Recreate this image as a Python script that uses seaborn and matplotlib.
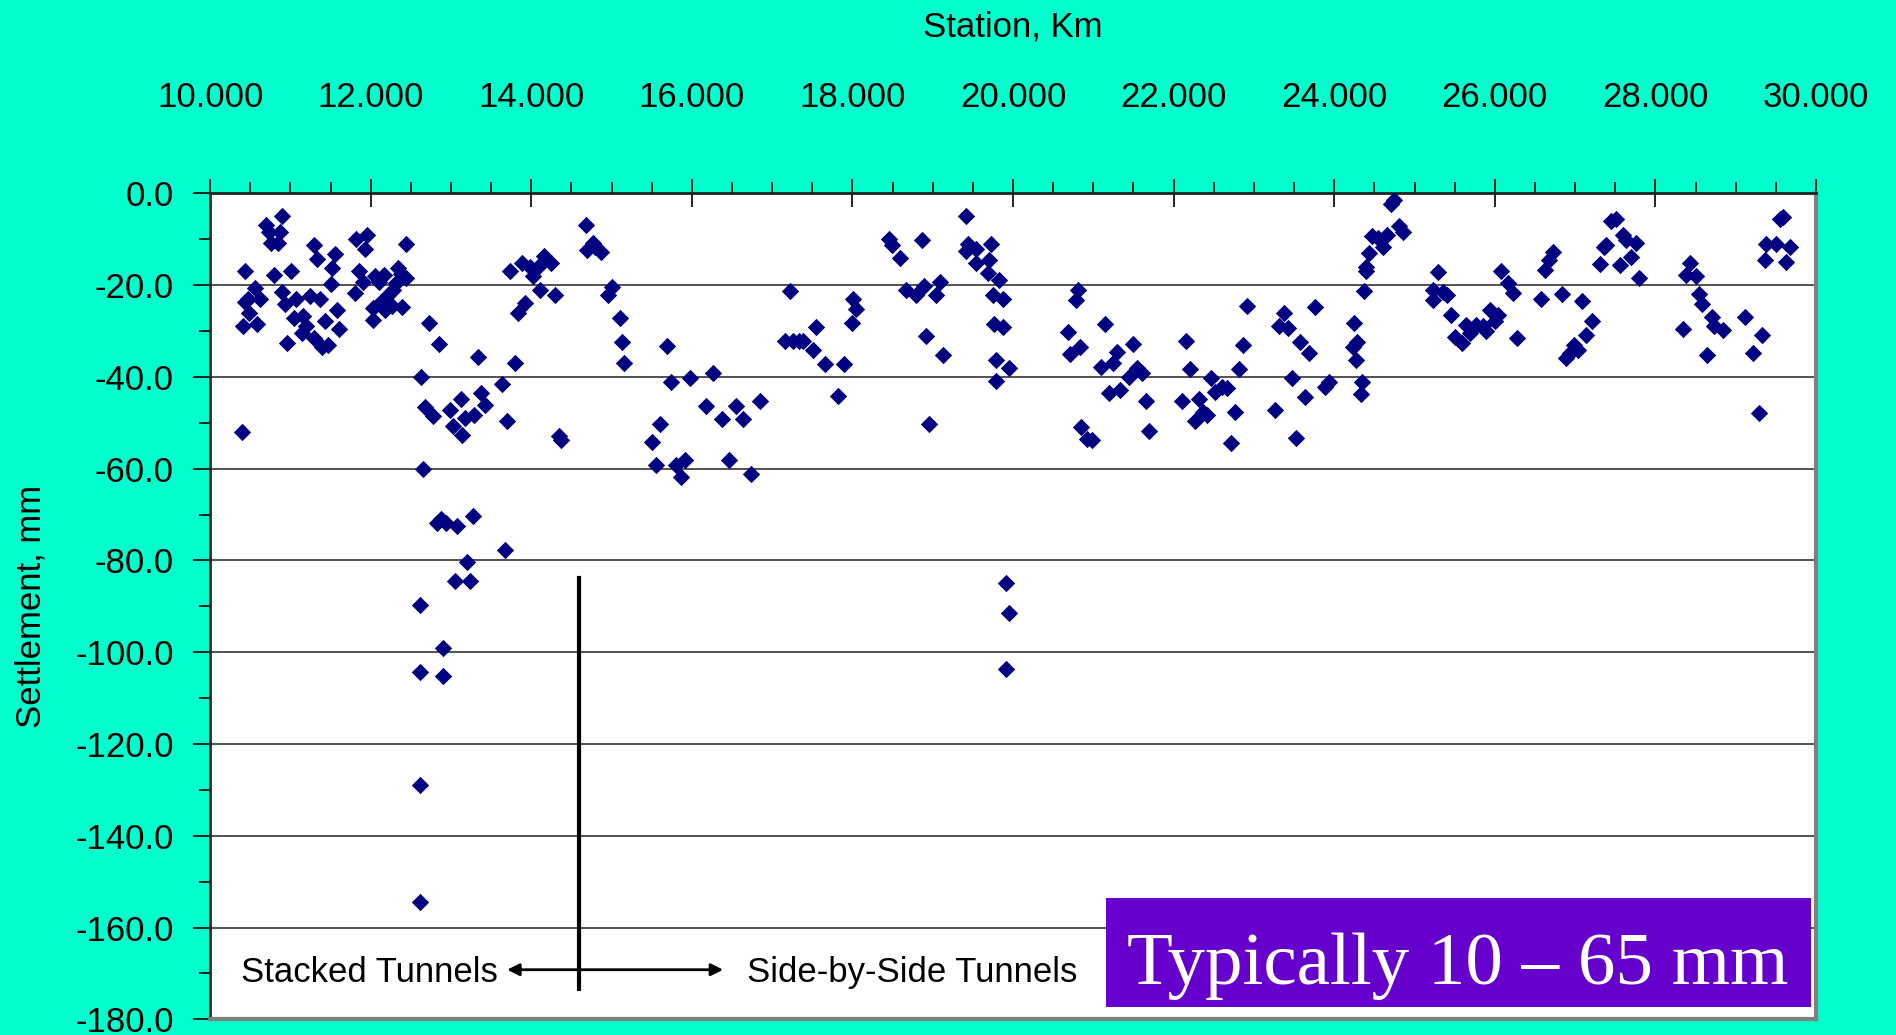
import pandas as pd
import matplotlib
matplotlib.use('Agg')
import matplotlib.pyplot as plt
import seaborn as sns
from matplotlib.ticker import MultipleLocator, FormatStrFormatter
from matplotlib.patches import Rectangle

# Datos (estacion en km, asentamiento en mm)
station_km = [
    # 10 - 12.5 km
    10.43, 10.40, 10.56, 10.47, 10.62, 10.43, 10.49, 10.41, 10.58,
    10.70, 10.74, 10.89, 10.87, 10.76, 10.85, 10.79, 11.01, 10.90, 10.93, 10.96,
    11.07, 11.24, 11.37, 11.05, 11.16, 11.20, 11.14, 11.30, 11.39, 11.47,
    11.29, 11.33, 11.56, 11.52, 11.51, 11.58, 11.61, 11.43,
    11.82, 11.95, 11.93, 11.86, 11.90, 11.81, 12.05, 12.17, 12.10,
    12.34, 12.44, 12.32, 12.22, 12.13, 12.03, 12.03, 12.26, 12.39, 12.44,
    12.38, 12.28, 12.18,
    # 12.5 - 15.2 km
    12.73, 12.85, 12.63, 12.68, 12.78, 12.65, 13.02, 13.14, 12.99, 13.13,
    13.18, 13.29, 13.37, 13.42, 13.34, 13.64, 13.70, 13.80, 13.83, 13.92,
    13.74, 13.88, 13.98, 14.02, 14.08, 14.16, 14.25, 14.11, 14.30, 14.35, 14.37,
    14.68, 14.79, 14.87, 14.77, 14.70, 15.00, 14.95, 15.10, 15.13, 15.16,
    12.82, 12.88, 12.94, 13.07, 13.27, 13.67, 13.20, 13.05, 13.24,
    12.62, 12.90, 12.62, 12.90, 12.62, 12.62,
    # 15.5 - 20 km
    15.69, 15.74, 15.98, 16.26, 15.60, 15.50, 15.55, 15.80, 15.91, 15.86,
    16.17, 16.37, 16.55, 16.64, 16.85, 16.46, 16.74,
    17.22, 17.16, 17.26, 17.34, 17.38, 17.55, 17.51, 17.66, 17.89, 17.82,
    18.01, 18.04, 17.99,
    18.46, 18.49, 18.59, 18.87, 18.67, 18.79, 18.89, 19.04, 19.09, 18.92, 19.13, 18.95,
    19.41, 19.44, 19.42, 19.54, 19.72, 19.54, 19.70, 19.69, 19.83, 19.75,
    19.87, 19.76, 19.87, 19.79, 19.95, 19.79,
    19.91, 19.95, 19.91,
    # 20.5 - 26 km
    20.81, 20.78, 20.68, 20.83, 20.71, 20.85, 20.92, 20.98, 21.15, 21.29,
    21.24, 21.10, 21.49, 21.54, 21.60, 21.45, 21.20, 21.33, 21.65, 21.69,
    22.16, 22.21, 22.46, 22.11, 22.31, 22.36, 22.41, 22.26, 22.51, 22.60,
    22.67, 22.81, 22.76, 22.71, 22.86, 22.91,
    23.26, 23.37, 23.31, 23.42, 23.58, 23.68, 23.48, 23.63, 23.53, 23.76,
    23.89, 23.94,
    24.25, 24.28, 24.24, 24.27, 24.35, 24.33, 24.37, 24.39, 24.40, 24.43,
    24.47, 24.54, 24.66, 24.61, 24.74, 24.71, 24.81, 24.86,
    25.29, 25.23, 25.36, 25.41, 25.23, 25.45,
    25.50, 25.59, 25.64, 25.69, 25.77, 25.85, 25.89, 25.94, 26.00, 26.04,
    26.08, 26.16, 26.23, 26.28,
    # 26.5 - 30 km
    26.57, 26.62, 26.68, 26.73, 26.84, 27.09, 27.21, 27.14, 26.99, 27.03,
    26.89, 26.94, 27.31, 27.39, 27.36, 27.45, 27.51, 27.60, 27.64, 27.76,
    27.56, 27.70, 27.80,
    28.43, 28.38, 28.50, 28.54, 28.58, 28.70, 28.73, 28.84, 28.34, 28.64,
    29.12, 29.33, 29.22, 29.29, 29.55, 29.59, 29.38, 29.50, 29.68, 29.37, 29.63,
]

settlement_mm = [
    # 10 - 12.5 km
    -16.8, -51.9, -20.7, -22.9, -22.9, -23.6, -26.1, -29.0, -28.5,
    -6.9, -8.3, -4.9, -8.3, -10.7, -10.7, -17.8, -17.0, -21.4, -24.1, -32.7,
    -22.9, -22.3, -22.9, -27.2, -26.8, -29.0, -30.5, -31.4, -33.4, -33.0,
    -11.2, -14.3, -13.2, -16.3, -19.7, -25.4, -29.6, -27.9,
    -10.0, -9.0, -12.2, -16.8, -19.4, -21.8, -18.1, -17.8, -19.4,
    -16.3, -18.5, -19.6, -22.1, -23.6, -25.0, -27.6, -24.5, -24.8, -11.0,
    -17.5, -21.0, -25.5,
    # 12.5 - 15.2 km
    -28.2, -32.9, -40.1, -46.5, -48.6, -60.1, -50.7, -52.7, -47.2, -44.9,
    -49.0, -48.3, -43.6, -46.1, -35.6, -41.6, -49.7, -37.0, -26.1, -23.8,
    -16.8, -15.2, -16.0, -18.1, -16.1, -13.6, -15.2, -21.0, -22.1, -52.8, -53.8,
    -6.9, -11.6, -12.7, -10.9, -12.3, -20.3, -22.1, -27.2, -32.3, -36.9,
    -71.8, -71.0, -71.8, -72.4, -70.2, -77.7, -80.3, -84.5, -84.5,
    -89.6, -99.1, -104.4, -105.2, -128.9, -154.5,
    # 15.5 - 20 km
    -33.2, -41.2, -40.2, -39.2, -50.2, -54.2, -59.2, -59.2, -58.2, -61.9,
    -46.3, -49.2, -46.3, -49.2, -45.2, -58.2, -61.2,
    -21.2, -32.2, -32.2, -32.2, -32.2, -29.2, -34.1, -37.2, -37.2, -44.2,
    -23.1, -25.2, -28.2,
    -10.0, -11.2, -14.1, -10.1, -21.0, -22.2, -20.2, -22.2, -19.2, -31.1, -35.2, -50.2,
    -4.9, -11.0, -12.5, -12.1, -11.0, -15.2, -14.5, -17.4, -18.9, -22.1,
    -23.1, -28.5, -29.2, -36.2, -38.1, -40.8,
    -84.9, -91.5, -103.6,
    # 20.5 - 26 km
    -21.0, -23.2, -30.1, -33.4, -35.0, -51.0, -53.6, -53.7, -28.4, -34.5,
    -37.0, -37.8, -32.9, -38.1, -39.1, -40.0, -43.4, -42.8, -45.2, -51.7,
    -32.1, -38.3, -40.2, -45.2, -44.9, -47.6, -48.3, -49.5, -43.2, -42.1,
    -42.3, -38.3, -47.6, -54.3, -33.0, -24.5,
    -47.2, -26.0, -28.9, -29.4, -32.3, -34.7, -40.2, -44.4, -53.2, -24.7,
    -42.1, -41.0,
    -28.3, -32.3, -33.4, -36.2, -41.0, -43.7, -21.2, -16.8, -16.1, -13.0,
    -9.3, -9.8, -9.0, -11.6, -1.4, -2.3, -7.2, -8.3,
    -17.2, -21.0, -21.4, -22.1, -23.2, -26.5,
    -31.2, -32.7, -28.7, -30.5, -28.7, -29.0, -29.9, -25.4, -27.7, -26.5,
    -17.0, -19.6, -21.8, -31.6,
    # 26.5 - 30 km
    -22.9, -16.7, -14.5, -12.7, -21.9, -23.4, -27.7, -30.9, -33.0, -34.1,
    -35.9, -34.7, -15.4, -11.2, -11.7, -6.1, -5.6, -9.1, -10.1, -10.9,
    -15.5, -13.9, -18.5,
    -15.1, -17.8, -18.1, -21.9, -24.1, -26.9, -29.0, -29.8, -29.6, -35.2,
    -26.9, -30.9, -34.8, -47.8, -5.6, -5.1, -11.0, -11.0, -11.7, -14.5, -14.9,
]

df = pd.DataFrame({'Station': station_km, 'Settlement': settlement_mm})

# Estilo general
plt.style.use('default')
plt.rcParams['font.family'] = ['Liberation Sans', 'DejaVu Sans']
fondo = '#00FFCC'
fs = 25

fig = plt.figure(figsize=(18.96, 10.35), dpi=100, facecolor=fondo)
ax = fig.add_axes([0.1108, 0.0152, 0.8470, 0.7979])
ax.set_facecolor('white')

sns.scatterplot(data=df, x='Station', y='Settlement', marker='D', color='#000080',
                s=78, linewidth=0, ax=ax, zorder=3, legend=False)

ax.set_xlim(10, 30)
ax.set_ylim(-180, 0)

# Eje X arriba
ax.xaxis.set_major_locator(MultipleLocator(2))
ax.xaxis.set_minor_locator(MultipleLocator(0.5))
ax.xaxis.set_major_formatter(FormatStrFormatter('%.3f'))
ax.xaxis.tick_top()
ax.xaxis.set_label_position('top')
ax.tick_params(axis='x', which='major', direction='inout', length=20, width=1.2,
               pad=47, labelsize=fs)
ax.tick_params(axis='x', which='minor', direction='out', length=8, width=1.2)

# Eje Y
ax.yaxis.set_major_locator(MultipleLocator(20))
ax.yaxis.set_minor_locator(MultipleLocator(10))
ax.yaxis.set_major_formatter(FormatStrFormatter('%.1f'))
ax.tick_params(axis='y', which='major', direction='out', length=12, width=1.2,
               pad=14, labelsize=fs)
ax.tick_params(axis='y', which='minor', direction='out', length=8, width=1.2)

ax.grid(axis='y', which='major', color='#333333', lw=1.2)
ax.set_axisbelow(True)

ax.set_xlabel('Station, Km', fontsize=fs, labelpad=32)
ax.set_ylabel('Settlement, mm', fontsize=fs, labelpad=20)

for lado in ['top', 'left']:
    ax.spines[lado].set_color('#222222')
    ax.spines[lado].set_linewidth(2)
for lado in ['right', 'bottom']:
    ax.spines[lado].set_color('#808080')
    ax.spines[lado].set_linewidth(3)

# Division entre tipos de tunel
ax.plot([14.60, 14.60], [-83.8, -173.3], color='black', lw=3, zorder=4)
ax.annotate('', xy=(13.70, -169.2), xytext=(16.39, -169.2),
            arrowprops=dict(arrowstyle='<|-|>', color='black', lw=2,
                            mutation_scale=18, shrinkA=0, shrinkB=0), zorder=4)
ax.text(10.39, -169.7, 'Stacked Tunnels', ha='left', va='center', fontsize=fs)
ax.text(16.69, -169.7, 'Side-by-Side Tunnels', ha='left', va='center', fontsize=fs)

# Recuadro morado
ax.add_patch(Rectangle((0.558, 0.0149), 0.439, 0.132, transform=ax.transAxes,
                       facecolor='#6600CC', edgecolor='none', zorder=5))
ax.text(0.777, 0.043, 'Typically 10 \u2013 65 mm', transform=ax.transAxes,
        ha='center', va='baseline', color='white', fontsize=54,
        family=['Liberation Serif', 'DejaVu Serif'], zorder=6)

fig.savefig('out.png', dpi=100, facecolor=fig.get_facecolor())
plt.close()
